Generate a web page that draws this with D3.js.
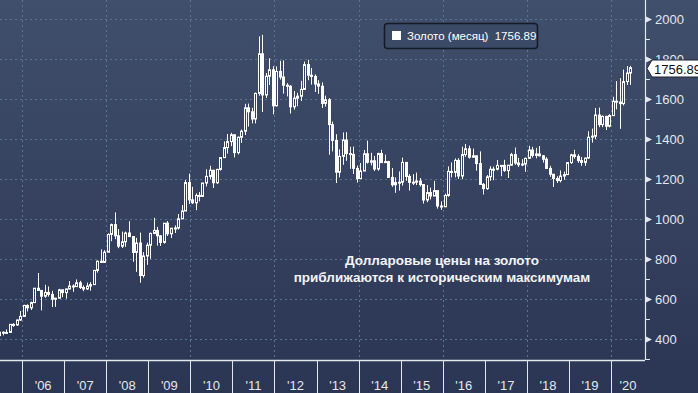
<!DOCTYPE html>
<html>
<head>
<meta charset="utf-8">
<script src="https://cdn.jsdelivr.net/npm/d3@7"></script>
<style>
  html, body { margin: 0; padding: 0; background: #2c3655; overflow: hidden; }
  svg { display: block; font-family: "Liberation Sans", Arial, sans-serif; }
</style>
</head>
<body>
<svg id="chart"></svg>
<script>
// monthly gold, XAU/USD, starting June 2005
const firstMonth = "2005-06-01";

const openPrices = [
  417, 434, 429, 433, 473, 470, 495,
  513, 568, 556, 582, 654, 643, 614, 633, 623, 599, 604, 646,
  632, 650, 665, 662, 681, 658, 650, 665, 672, 743, 789, 783,
  834, 923, 972, 916, 864, 886, 930, 912, 833, 880, 717, 815,
  869, 928, 943, 916, 883, 979, 926, 954, 955, 1001, 1040, 1182,
  1096, 1081, 1118, 1113, 1180, 1213, 1244, 1181, 1248, 1307, 1357, 1387,
  1421, 1332, 1409, 1439, 1556, 1536, 1500, 1628, 1826, 1620, 1714, 1746,
  1566, 1738, 1710, 1669, 1664, 1561, 1604, 1614, 1648, 1772, 1719, 1713,
  1675, 1664, 1578, 1596, 1472, 1393, 1234, 1313, 1395, 1327, 1323, 1253,
  1202, 1240, 1326, 1284, 1291, 1250, 1327, 1282, 1287, 1208, 1171, 1182,
  1184, 1283, 1213, 1183, 1184, 1190, 1172, 1095, 1132, 1115, 1142, 1065,
  1061, 1118, 1238, 1233, 1293, 1215, 1322, 1351, 1309, 1316, 1277, 1173,
  1152, 1211, 1249, 1249, 1268, 1268, 1242, 1269, 1322, 1280, 1271, 1275,
  1303, 1345, 1318, 1325, 1316, 1299, 1253, 1224, 1202, 1192, 1215, 1222,
  1282, 1321, 1313, 1292, 1283, 1305, 1409, 1414, 1520, 1472, 1513, 1464,
  1517, 1589, 1585, 1577, 1687, 1730
];

const highPrices = [
  443, 438, 448, 474, 479, 497, 540,
  571, 573, 587, 654, 730, 631, 671, 663, 641, 606, 651, 646,
  652, 690, 673, 698, 691, 668, 682, 684, 745, 792, 848, 844,
  928, 977, 1033, 950, 937, 937, 989, 915, 906, 932, 834, 882,
  932, 1006, 961, 918, 980, 990, 955, 968, 1025, 1070, 1195, 1227,
  1161, 1128, 1135, 1180, 1249, 1266, 1244, 1251, 1307, 1388, 1425, 1431,
  1424, 1412, 1447, 1576, 1577, 1556, 1632, 1913, 1921, 1730, 1804, 1764,
  1763, 1791, 1793, 1679, 1669, 1640, 1631, 1691, 1787, 1796, 1755, 1723,
  1694, 1683, 1617, 1605, 1487, 1424, 1348, 1433, 1434, 1361, 1362, 1267,
  1280, 1345, 1392, 1331, 1315, 1332, 1346, 1322, 1291, 1255, 1208, 1238,
  1307, 1285, 1224, 1224, 1232, 1205, 1175, 1170, 1157, 1191, 1143, 1088,
  1127, 1263, 1283, 1303, 1304, 1362, 1375, 1367, 1352, 1317, 1338, 1180,
  1220, 1264, 1262, 1295, 1270, 1296, 1270, 1331, 1357, 1306, 1299, 1307,
  1366, 1361, 1356, 1365, 1320, 1309, 1266, 1217, 1214, 1243, 1237, 1285,
  1326, 1346, 1324, 1310, 1306, 1439, 1452, 1555, 1557, 1518, 1516, 1524,
  1611, 1689, 1704, 1747, 1765, 1766
];

const lowPrices = [
  414, 418, 428, 433, 461, 467, 490,
  513, 538, 545, 582, 643, 543, 606, 612, 560, 561, 604, 609,
  602, 649, 636, 669, 650, 639, 646, 642, 670, 732, 780, 780,
  838, 889, 899, 854, 855, 861, 911, 786, 736, 681, 707, 771,
  801, 924, 867, 865, 877, 915, 905, 930, 947, 1000, 1042, 1075,
  1075, 1044, 1088, 1111, 1163, 1199, 1155, 1176, 1242, 1307, 1327, 1364,
  1308, 1323, 1381, 1420, 1462, 1478, 1478, 1616, 1535, 1605, 1670, 1523,
  1563, 1697, 1627, 1613, 1527, 1547, 1564, 1590, 1650, 1694, 1672, 1635,
  1626, 1555, 1562, 1321, 1338, 1180, 1208, 1271, 1291, 1251, 1225, 1182,
  1201, 1240, 1277, 1268, 1240, 1241, 1281, 1281, 1206, 1161, 1131, 1142,
  1167, 1191, 1142, 1170, 1170, 1162, 1077, 1084, 1098, 1136, 1052, 1046,
  1062, 1111, 1208, 1208, 1200, 1199, 1311, 1302, 1305, 1242, 1171, 1123,
  1146, 1191, 1194, 1243, 1214, 1236, 1205, 1267, 1271, 1260, 1264, 1236,
  1302, 1307, 1303, 1313, 1282, 1250, 1211, 1160, 1180, 1183, 1196, 1221,
  1276, 1302, 1281, 1266, 1266, 1301, 1382, 1400, 1459, 1459, 1445, 1458,
  1517, 1548, 1451, 1568, 1670, 1671
];

const closePrices = [
  434, 429, 433, 473, 470, 495, 513,
  568, 556, 582, 654, 643, 614, 633, 623, 599, 604, 646, 632,
  650, 665, 662, 681, 658, 650, 665, 672, 743, 789, 783, 834,
  923, 972, 916, 864, 886, 930, 912, 833, 880, 717, 815, 869,
  928, 943, 916, 883, 979, 926, 954, 955, 1001, 1040, 1182, 1096,
  1081, 1118, 1113, 1180, 1213, 1244, 1181, 1248, 1307, 1357, 1387, 1421,
  1332, 1409, 1439, 1556, 1536, 1500, 1628, 1826, 1620, 1714, 1746, 1566,
  1738, 1710, 1669, 1664, 1561, 1604, 1614, 1648, 1772, 1719, 1713, 1675,
  1664, 1578, 1596, 1472, 1393, 1234, 1313, 1395, 1327, 1323, 1253, 1202,
  1240, 1326, 1284, 1291, 1250, 1327, 1282, 1287, 1208, 1171, 1182, 1184,
  1283, 1213, 1183, 1184, 1190, 1172, 1095, 1132, 1115, 1142, 1065, 1061,
  1118, 1238, 1233, 1293, 1215, 1322, 1351, 1309, 1316, 1277, 1173, 1152,
  1211, 1249, 1249, 1268, 1268, 1242, 1269, 1322, 1280, 1271, 1275, 1303,
  1345, 1318, 1325, 1316, 1299, 1253, 1224, 1202, 1192, 1215, 1222, 1282,
  1321, 1313, 1292, 1283, 1305, 1409, 1414, 1520, 1472, 1513, 1464, 1517,
  1589, 1585, 1577, 1687, 1730, 1756.89
];

const priceTicks = [400, 600, 800, 1000, 1200, 1400, 1600, 1800, 2000];
const minorTicks = [300, 500, 700, 900, 1100, 1300, 1500, 1700, 1900];
const yearLabels = ["'06", "'07", "'08", "'09", "'10", "'11", "'12", "'13", "'14", "'15", "'16", "'17", "'18", "'19", "'20"];
const gridYears = [2006, 2008, 2010, 2012, 2014, 2016, 2018, 2020];

const legendText = "Золото (месяц)  1756.89";
const lastPrice = 1756.89;
const noteLines = ["Долларовые цены на золото", "приближаются к историческим максимумам"];

const width = 698, height = 393;
const plotRight = 645, plotBottom = 360;

const svg = d3.select("#chart").attr("width", width).attr("height", height);

const defs = svg.append("defs");
const grad = defs.append("linearGradient")
    .attr("id", "bg").attr("x1", 0).attr("x2", 0).attr("y1", 0).attr("y2", 1);
grad.append("stop").attr("offset", "0%").attr("stop-color", "#404f6b");
grad.append("stop").attr("offset", "100%").attr("stop-color", "#2b3554");
defs.append("clipPath").attr("id", "plotClip")
    .append("rect").attr("x", 0).attr("y", 0).attr("width", plotRight).attr("height", plotBottom);

svg.append("rect").attr("width", width).attr("height", height).attr("fill", "url(#bg)");

const xScale = d3.scaleUtc()
    .domain([new Date(Date.UTC(2005, 5, 23)), new Date(Date.UTC(2020, 9, 22))])
    .range([0, plotRight]);
const yScale = d3.scaleLinear().domain([295, 2095]).range([plotBottom, 0]);

const gridColor = "#5b7392";

// grid
svg.append("g").selectAll("line").data(priceTicks).join("line")
    .attr("x1", 0).attr("x2", plotRight)
    .attr("y1", d => Math.round(yScale(d)) + 0.5).attr("y2", d => Math.round(yScale(d)) + 0.5)
    .attr("stroke", gridColor).attr("stroke-dasharray", "2,3");

svg.append("g").selectAll("line").data(gridYears).join("line")
    .attr("x1", d => Math.round(xScale(new Date(Date.UTC(d, 0, 1)))) + 0.5)
    .attr("x2", d => Math.round(xScale(new Date(Date.UTC(d, 0, 1)))) + 0.5)
    .attr("y1", 0).attr("y2", plotBottom)
    .attr("stroke", gridColor).attr("stroke-dasharray", "2,3");

// candles
const candles = closePrices.map((c, i) => {
    const start = d3.utcMonth.offset(new Date(firstMonth + "T00:00:00Z"), i);
    const end = d3.utcMonth.offset(start, 1);
    return {
        x: (xScale(start) + xScale(end)) / 2,
        open: openPrices[i], high: highPrices[i], low: lowPrices[i], close: c
    };
});

const candleG = svg.append("g").attr("clip-path", "url(#plotClip)");

candleG.selectAll("line").data(candles).join("line")
    .attr("x1", d => Math.round(d.x) + 0.5).attr("x2", d => Math.round(d.x) + 0.5)
    .attr("y1", d => yScale(d.high)).attr("y2", d => yScale(d.low))
    .attr("stroke", "#ffffff").attr("stroke-width", 1);

candleG.selectAll("rect").data(candles).join("rect")
    .attr("x", d => Math.round(d.x) - 1 + 0.5)
    .attr("width", 2)
    .attr("y", d => yScale(Math.max(d.open, d.close)))
    .attr("height", d => Math.max(1, Math.abs(yScale(d.open) - yScale(d.close))))
    .attr("fill", d => d.close >= d.open ? "#34415f" : "#ffffff")
    .attr("stroke", "#ffffff").attr("stroke-width", 1);

// axes
const axisColor = "#e3e7ee";
svg.append("line").attr("x1", 0).attr("x2", plotRight)
    .attr("y1", plotBottom + 0.5).attr("y2", plotBottom + 0.5)
    .attr("stroke", axisColor).attr("stroke-width", 1.5);
svg.append("line").attr("x1", plotRight + 0.5).attr("x2", plotRight + 0.5)
    .attr("y1", 0).attr("y2", plotBottom)
    .attr("stroke", axisColor).attr("stroke-width", 1.2);

// year separators and labels
const yearStarts = d3.utcYears(xScale.domain()[0], xScale.domain()[1]);
svg.append("g").selectAll("line").data(yearStarts).join("line")
    .attr("x1", d => Math.round(xScale(d)) + 0.5).attr("x2", d => Math.round(xScale(d)) + 0.5)
    .attr("y1", plotBottom).attr("y2", height)
    .attr("stroke", axisColor).attr("stroke-width", 1);

svg.append("g").selectAll("text").data(yearLabels).join("text")
    .attr("x", (d, i) => {
        const a = xScale(new Date(Date.UTC(2006 + i, 0, 1)));
        const b = Math.min(plotRight, xScale(new Date(Date.UTC(2007 + i, 0, 1))));
        return (a + b) / 2;
    })
    .attr("y", 390)
    .attr("text-anchor", "middle")
    .attr("font-size", "13px")
    .attr("fill", axisColor)
    .text(d => d);

// y ticks
const yAxis = svg.append("g");
yAxis.selectAll("path.tri").data(priceTicks).join("path")
    .attr("class", "tri")
    .attr("d", d => {
        const y = Math.round(yScale(d)) + 0.5;
        return `M${plotRight},${y - 3.5}L${plotRight + 7},${y}L${plotRight},${y + 3.5}Z`;
    })
    .attr("fill", axisColor);
yAxis.selectAll("line.minor").data(minorTicks).join("line")
    .attr("class", "minor")
    .attr("x1", plotRight).attr("x2", plotRight + 5)
    .attr("y1", d => Math.round(yScale(d)) + 0.5).attr("y2", d => Math.round(yScale(d)) + 0.5)
    .attr("stroke", axisColor);
yAxis.selectAll("text").data(priceTicks).join("text")
    .attr("x", plotRight + 10)
    .attr("y", d => yScale(d) + 5)
    .attr("font-size", "13px")
    .attr("fill", axisColor)
    .text(d => d3.format("d")(d));

// last price tag
const ty = Math.round(yScale(lastPrice)) + 0.5;
svg.append("path")
    .attr("d", `M${plotRight + 2},${ty}L${plotRight + 7},${ty - 8.5}L${width + 2},${ty - 8.5}L${width + 2},${ty + 8.5}L${plotRight + 7},${ty + 8.5}Z`)
    .attr("fill", "#ffffff").attr("stroke", "#1c2233").attr("stroke-width", 1);
svg.append("text")
    .attr("x", plotRight + 9).attr("y", ty + 5)
    .attr("font-size", "13px").attr("fill", "#111111")
    .text(d3.format(".2f")(lastPrice));

// legend
const legend = svg.append("g");
legend.append("rect")
    .attr("x", 384.5).attr("y", 23.5).attr("width", 153).attr("height", 25).attr("rx", 3)
    .attr("fill", "#3b4a66").attr("stroke", "#141a27").attr("stroke-width", 1.5);
legend.append("rect")
    .attr("x", 392).attr("y", 31).attr("width", 9).attr("height", 9)
    .attr("fill", "#ffffff");
legend.append("text")
    .attr("x", 407).attr("y", 40)
    .attr("font-size", "11.5px").attr("fill", "#ffffff")
    .attr("xml:space", "preserve")
    .text(legendText);

// note
svg.append("g").selectAll("text").data(noteLines).join("text")
    .attr("x", 442).attr("y", (d, i) => 265 + i * 17)
    .attr("text-anchor", "middle")
    .attr("font-size", "13.5px").attr("font-weight", "bold")
    .attr("fill", "#f2f4f8")
    .text(d => d);
</script>
</body>
</html>
